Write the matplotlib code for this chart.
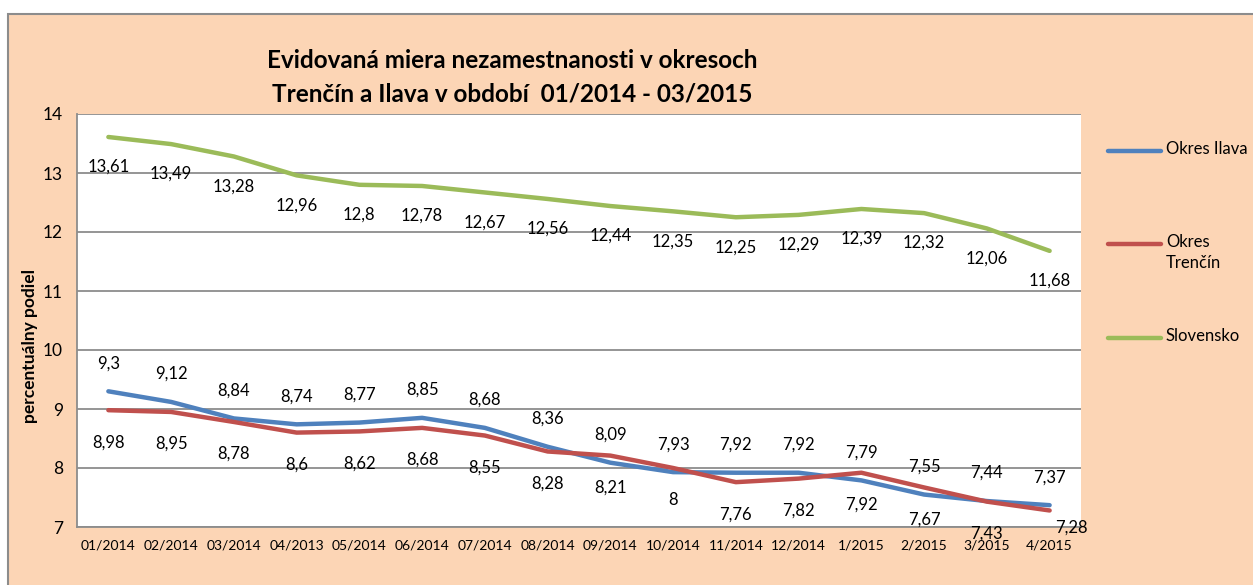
import numpy as np
import matplotlib.pyplot as plt
from matplotlib.lines import Line2D
from matplotlib.patches import Rectangle

plt.rcParams["font.family"] = ["Lato", "DejaVu Sans"]

months = ["01/2014", "02/2014", "03/2014", "04/2013", "05/2014", "06/2014",
          "07/2014", "08/2014", "09/2014", "10/2014", "11/2014", "12/2014",
          "1/2015", "2/2015", "3/2015", "4/2015"]
ilava = [9.3, 9.12, 8.84, 8.74, 8.77, 8.85, 8.68, 8.36, 8.09, 7.93, 7.92,
         7.92, 7.79, 7.55, 7.44, 7.37]
trencin = [8.98, 8.95, 8.78, 8.6, 8.62, 8.68, 8.55, 8.28, 8.21, 8, 7.76,
           7.82, 7.92, 7.67, 7.43, 7.28]
slovensko = [13.61, 13.49, 13.28, 12.96, 12.8, 12.78, 12.67, 12.56, 12.44,
             12.35, 12.25, 12.29, 12.39, 12.32, 12.06, 11.68]
names = ["Okres Ilava", "Okres\nTrenčín", "Slovensko"]
colors = ["#4F81BD", "#C0504D", "#9BBB59"]

W, H = 1253, 585
fig = plt.figure(figsize=(W / 100, H / 100), dpi=100)
fig.patch.set_facecolor("white")

# peach chart frame
fig.add_artist(Rectangle((8 / W, -0.05), 1.0, 1 - 14 / H + 0.05,
                         transform=fig.transFigure, facecolor="#FCD5B5",
                         edgecolor="#8C8C8C", linewidth=1.5, zorder=0))

ax = fig.add_axes([77 / W, 1 - 527 / H, (1081 - 77) / W, (527 - 114) / H])
ax.set_facecolor("white")
x = np.arange(len(months))

series = [ilava, trencin, slovensko]
offsets = [28, -32, -30]  # label offset in pixels (above / below)
for vals, col, off in zip(series, colors, offsets):
    ax.plot(x, vals, color=col, linewidth=3.2, solid_joinstyle="round",
            solid_capstyle="round", zorder=3)
    for i, (xi, v) in enumerate(zip(x, vals)):
        dx, dy = 0, off
        if vals is trencin and i == len(vals) - 1:
            dx, dy = 22, -17  # last label pushed right like the original
        ax.annotate(f"{v:g}".replace(".", ","), (xi, v), xytext=(dx, dy),
                    textcoords="offset pixels", ha="center", va="center",
                    fontsize=12, color="black", zorder=4)

ax.set_xlim(-0.5, len(months) - 0.5)
ax.set_ylim(7, 14)
ax.set_yticks(range(7, 15))
ax.set_xticks(x)
ax.set_xticklabels(months, fontsize=10)
ax.tick_params(axis="y", labelsize=12.5, length=0, pad=10)
ax.tick_params(axis="x", length=0, pad=9)
ax.grid(axis="y", color="#8C8C8C", linewidth=1.3)
ax.set_axisbelow(True)
for s in ["top", "right"]:
    ax.spines[s].set_visible(False)
for s in ["left", "bottom"]:
    ax.spines[s].set_color("#8C8C8C")
    ax.spines[s].set_linewidth(1.3)

fig.text(30 / W, 1 - 346 / H, "percentuálny podiel", rotation=90,
         fontsize=12.5, fontweight="bold", ha="center", va="center")

fig.text(512 / W, 1 - 60 / H, "Evidovaná miera nezamestnanosti v okresoch",
         fontsize=17.5, fontweight="bold", ha="center", va="center")
fig.text(512 / W, 1 - 94 / H, "Trenčín a Ilava v období  01/2014 - 03/2015",
         fontsize=17.5, fontweight="bold", ha="center", va="center")

# legend
leg_y = [151, 244, 338]
for name, col, y in zip(names, colors, leg_y):
    fig.add_artist(Line2D([1108 / W, 1161 / W], [1 - y / H, 1 - y / H],
                          transform=fig.transFigure, color=col,
                          linewidth=3.2, solid_capstyle="round"))
    fig.text(1166 / W, 1 - (y - 10) / H, name, fontsize=12, ha="left",
             va="top", linespacing=1.4)

fig.savefig("out.png", dpi=100)
